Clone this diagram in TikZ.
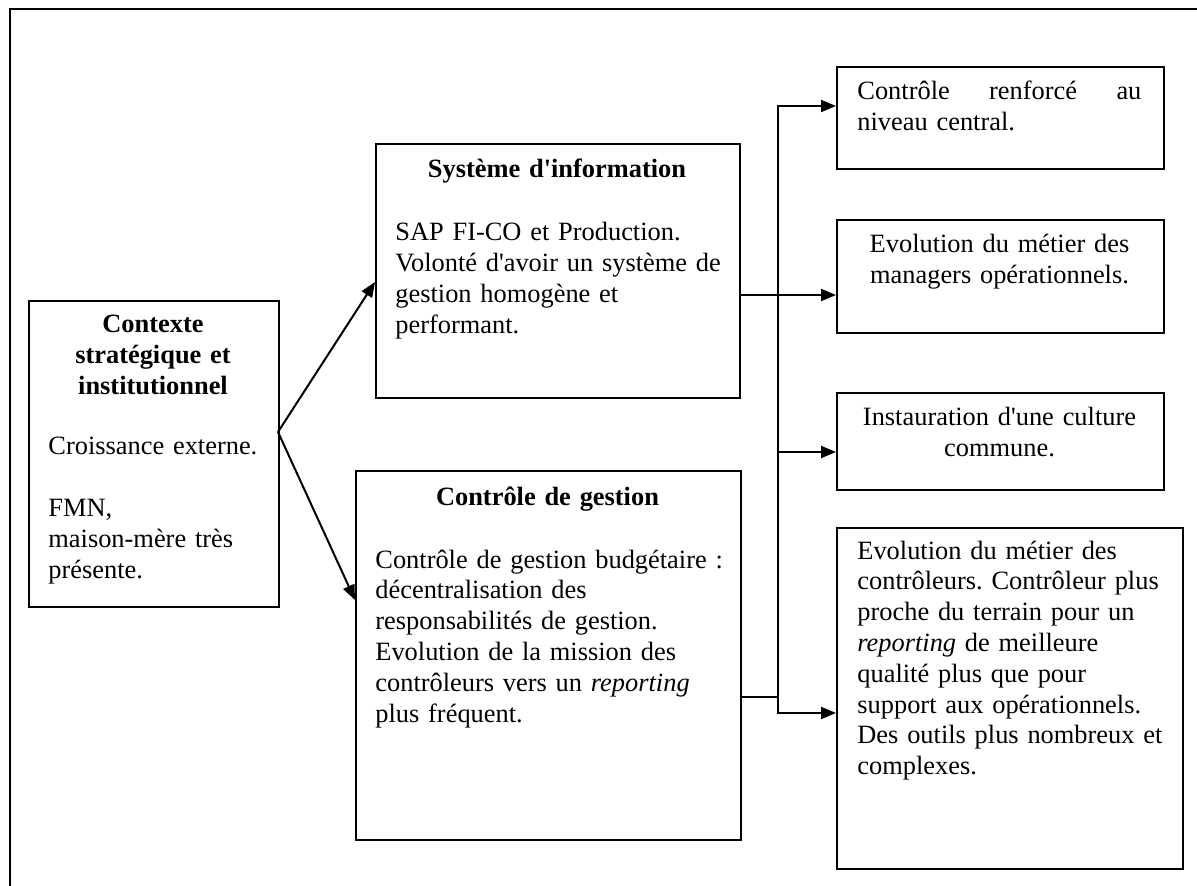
\documentclass[tikz,border=0pt]{standalone}
\usepackage{fontspec}
\setmainfont{Liberation Serif}[Ligatures=TeXOff]
\usetikzlibrary{arrows.meta}
\newcommand\myfs{\fontsize{13.2pt}{15.4pt}\selectfont}
\frenchspacing
\begin{document}
\begin{tikzpicture}[x=0.5pt,y=-0.5pt,
  box/.style={draw,line width=1pt,inner sep=0pt,anchor=north west},
  txt/.style={inner sep=0pt,anchor=base west,align=left,font=\myfs},
  ctxt/.style={inner sep=0pt,anchor=base,align=center,font=\myfs},
  ttl/.style={inner sep=0pt,anchor=base,align=center,font=\myfs\bfseries},
  arr/.style={line width=1pt,-{Triangle[length=7.5pt,width=6pt]}},
  ln/.style={line width=1pt}]
\useasboundingbox (0,0) rectangle (1197,886);
\fill[white] (0,0) rectangle (1197,886);
\draw[line width=1.3pt] (10,886) -- (10,9) -- (1197,9);

% boxes
\node[box,minimum width=125pt,minimum height=153pt] (ctx) at (28,300) {};
\node[box,minimum width=182pt,minimum height=127pt] (si) at (375,143) {};
\node[box,minimum width=192.5pt,minimum height=184.5pt] (cg) at (355,470) {};
\node[box,minimum width=163.5pt,minimum height=51pt] (r1) at (836,66) {};
\node[box,minimum width=163.5pt,minimum height=56.5pt] (r2) at (836,219) {};
\node[box,minimum width=163.5pt,minimum height=48.5pt] (r3) at (836,392) {};
\node[box,minimum width=173pt,minimum height=170.5pt] (r4) at (836,527) {};

% texts
\node[ttl,text width=110pt] (ctxt) at (153,333) {Contexte\\stratégique et\\institutionnel};
\node[txt,text width=110pt] (ctxb) at (48,455) {Croissance externe.\\[15.4pt]FMN,\\maison-mère très\\présente.};
\node[ttl,text width=170pt] (sit) at (557,178) {Système d'information};
\node[txt,text width=165pt] (sib) at (395,241) {SAP FI-CO et Production.\\Volonté d'avoir un système de\\gestion homogène et\\performant.};
\node[ttl,text width=180pt] (cgt) at (547.5,505) {Contrôle de gestion};
\node[txt,text width=178pt] (cgb) at (375,568) {Contrôle de gestion budgétaire :\\décentralisation des\\responsabilités de gestion.\\Evolution de la mission des\\contrôleurs vers un \textit{reporting}\\plus fréquent.};
\node[txt,text width=142pt] (r1t) at (857,100) {Contrôle\hfill renforcé\hfill au\\niveau central.};
\node[ctxt,text width=155pt] (r2t) at (999.5,253) {Evolution du métier des\\managers opérationnels.};
\node[ctxt,text width=155pt] (r3t) at (999.5,426) {Instauration d'une culture\\commune.};
\node[txt,text width=160pt] (r4t) at (857,559) {Evolution du métier des\\contrôleurs. Contrôleur plus\\proche du terrain pour un\\\textit{reporting} de meilleure\\qualité plus que pour\\support aux opérationnels.\\Des outils plus nombreux et\\complexes.};

% connectors
\coordinate (v) at (278,432);
\coordinate (sin) at (375,282);
\coordinate (cgin) at (355,600);
\draw[arr] (v) -- (sin);
\draw[arr] (v) -- (cgin);
\coordinate (bt) at (778,106);
\coordinate (bb) at (778,713);
\coordinate (b3) at (778,452);
\coordinate (s2) at (739,295);
\coordinate (c2) at (740,697);
\draw[line width=1pt,{Triangle[length=7.5pt,width=6pt]}-{Triangle[length=7.5pt,width=6pt]}] (r4.west |- bb) -- (bb) -- (bt) -- (r1.west |- bt);
\draw[arr] (s2) -- (r2.west |- s2);
\draw[arr] (b3) -- (r3.west |- b3);
\draw[ln] (c2) -- (c2 -| bt);
\end{tikzpicture}
\end{document}
